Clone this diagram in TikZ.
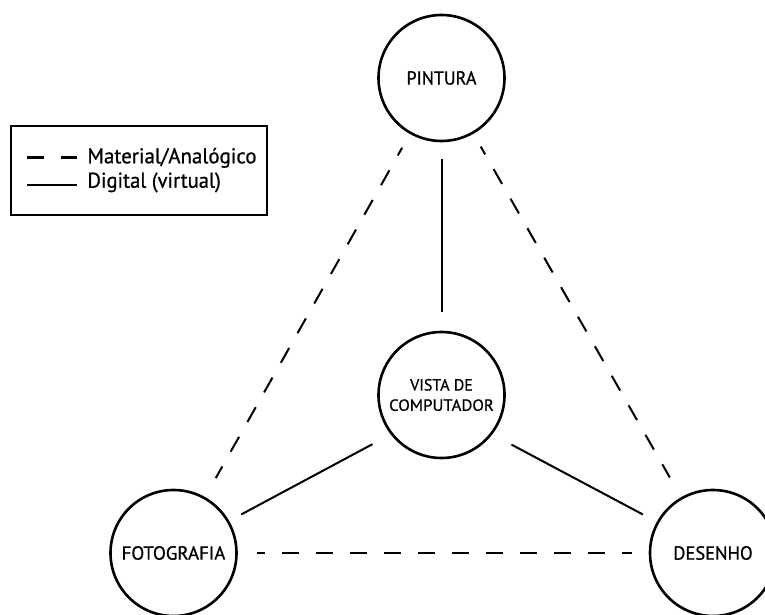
\documentclass[tikz,border=0pt]{standalone}
\usepackage{fontspec}
\setmainfont{PT Sans}[FakeBold=0.8]
\newcommand{\fitw}[2]{\resizebox{#1}{\height}{#2}}
\begin{document}
\begin{tikzpicture}[x=1pt,y=-1pt,
  circ/.style={circle,draw,line width=2.6pt,minimum size=126pt,inner sep=0pt,outer sep=0pt,
    font=\fontsize{19}{20}\selectfont},
  conn/.style={line width=2pt},
  dsh/.style={conn,dash pattern=on 17pt off 17pt},
  legtext/.style={anchor=base west,inner sep=0pt,font=\fontsize{21.4}{24}\selectfont}]
\useasboundingbox (0,0) rectangle (765,615);
% legend
\node[draw,line width=2pt,minimum width=256pt,minimum height=88.5pt,anchor=north west,
  inner sep=0pt,outer sep=0pt] (leg) at (11,126.5) {};
\coordinate (l1a) at (26.7,157.7);
\coordinate (l1b) at (77.3,157.7);
\coordinate (l2a) at (26.7,185);
\coordinate (l2b) at (77.3,185);
\draw[line width=2.5pt,dash pattern=on 17.5pt off 16.5pt] (l1a) -- (l1b);
\draw[line width=2.2pt] (l2a) -- (l2b);
\node[legtext] (t1) at (87.3,163.3) {\fitw{169pt}{Material/Analógico}};
\node[legtext] (t2) at (87.3,187.7) {\fitw{133.3pt}{Digital (virtual)}};
% circles
\node[circ] (pin) at (441.5,78) {\fitw{70pt}{PINTURA}};
\node[circ,font=\fontsize{16.2}{20.3}\selectfont,align=center] (vis) at (441.5,395)
  {\fitw{62.7pt}{VISTA DE}\\\fitw{104.7pt}{COMPUTADOR}};
\node[circ] (fot) at (173.5,553) {\fitw{103.7pt}{FOTOGRAFIA}};
\node[circ] (des) at (713,553) {\fitw{79.3pt}{DESENHO}};
% connectors
\draw[conn,shorten <=18pt,shorten >=20pt] (pin) -- (vis);
\draw[dsh,dash phase=8pt,shorten <=17pt,shorten >=23pt] (pin) -- (fot);
\draw[dsh,dash phase=8pt,shorten <=16pt,shorten >=24pt] (pin) -- (des);
\draw[conn,shorten <=22pt,shorten >=15pt] (vis.218) -- (fot.30);
\draw[conn,shorten <=23pt,shorten >=17pt] (vis.322) -- (des.151);
\draw[dsh,dash phase=9pt,shorten <=20.5pt,shorten >=18pt] (fot) -- (des);
\end{tikzpicture}
\end{document}
